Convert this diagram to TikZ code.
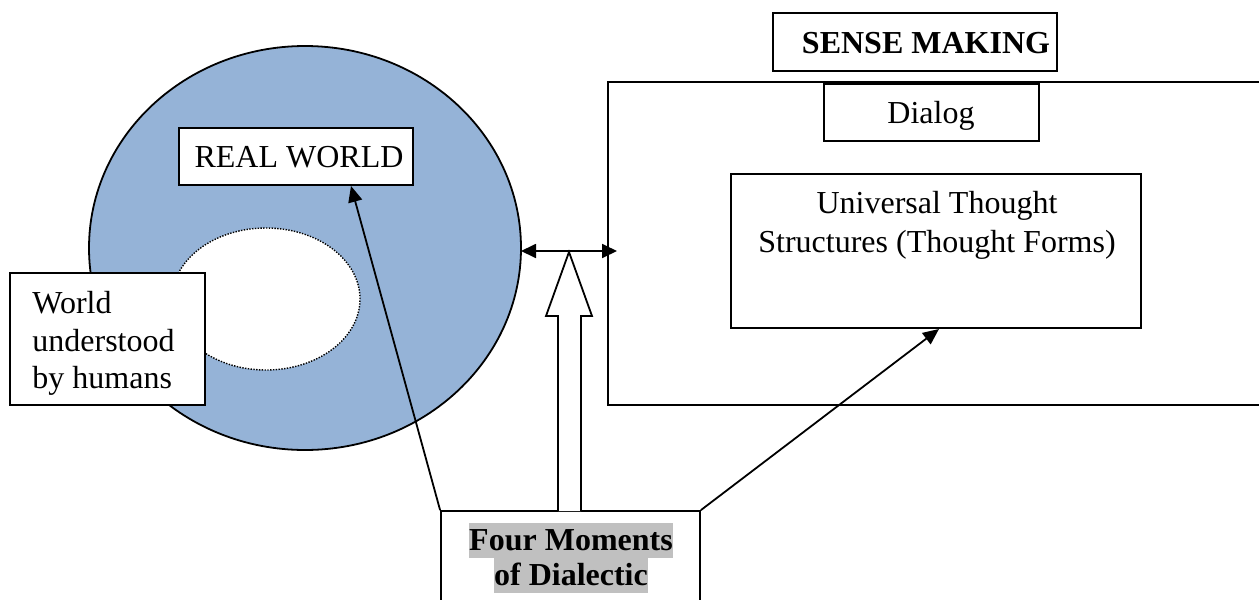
\documentclass[tikz,border=0pt]{standalone}
\usepackage{fontspec}
\setmainfont{Liberation Serif}
\usetikzlibrary{arrows.meta,fit,shapes.geometric}
\definecolor{circblue}{HTML}{95B3D7}
\definecolor{hlgray}{HTML}{C0C0C0}
\begin{document}
\begin{tikzpicture}[x=0.5pt,y=-0.5pt,
  box/.style={draw, line width=0.9pt, fill=white, inner sep=0pt},
  txt/.style={font=\fontsize{16}{18.75}\selectfont, inner sep=0pt},
  arr/.style={line width=0.9pt, -{Triangle[length=8pt,width=7pt]}},
]
\useasboundingbox (0,0) rectangle (1259,600);
% real world circle and the understood part
\node[ellipse, draw, line width=0.9pt, fill=circblue, inner sep=0pt,
      minimum width=216pt, minimum height=202pt] (circ) at (305,248) {};
\node[ellipse, draw, fill=white, line width=0.7pt, dash pattern=on 0.7pt off 0.7pt,
      inner sep=0pt, minimum width=94pt, minimum height=71pt] (known) at (266,299) {};
% REAL WORLD
\node[box, fit={(179,128) (413,185)}] (rw) {};
\node[txt, anchor=base] (rwt) at (299,167) {REAL WORLD};
% World understood by humans
\node[box, fit={(10,273) (205,405)}] (wu) {};
\node[txt, anchor=north west, align=left] (wut) at (32,291) {World\\understood\\by humans};
% Sense making frame
\node[box, fit={(608,82) (1290,405)}] (frame) {};
\node[box, fit={(773,13) (1057,71)}] (sm) {};
\node[txt, anchor=base, font=\fontsize{16}{18.75}\selectfont\bfseries] (smt) at (926,53) {SENSE MAKING};
\node[box, fit={(824,84) (1039,141)}] (dlg) {};
\node[txt, anchor=base] (dlgt) at (931,123) {Dialog};
\node[box, fit={(731,174) (1141,328)}] (ut) {};
\node[txt, anchor=north, align=center, font=\fontsize{16}{19.5}\selectfont] (utt) at (937,191)
  {Universal Thought\\Structures (Thought Forms)};
% Four moments of dialectic
\node[box, fit={(441,511) (700,640)}] (fm) {};
\node[txt, anchor=north, align=center, font=\fontsize{16}{17.5}\selectfont\bfseries] (fmt) at (571,522.5)
  {\setlength\fboxsep{0pt}\colorbox{hlgray}{\rule[-3.75pt]{0pt}{17.5pt}Four Moments}\\
   \setlength\fboxsep{0pt}\colorbox{hlgray}{\rule[-3.75pt]{0pt}{17.5pt}of Dialectic}};
% hollow upward arrow
\draw[line width=0.9pt, fill=white, line join=miter]
  (558,511) -- (558,316) -- (546,316) -- (569,252) -- (592,316) -- (581,316) -- (581,511);
% double arrow between world and sense making
\coordinate (dl) at (521,251);
\coordinate (dr) at (617,251);
\draw[line width=0.9pt, {Triangle[length=7.5pt,width=7pt]}-{Triangle[length=7.5pt,width=7pt]}] (dl) -- (dr);
% connectors from the four moments
\coordinate (rwtip) at (351,186);
\coordinate (uttip) at (939,329);
\draw[arr] (fm.north west) -- (rwtip);
\draw[arr] (fm.north east) -- (uttip);
\end{tikzpicture}
\end{document}
